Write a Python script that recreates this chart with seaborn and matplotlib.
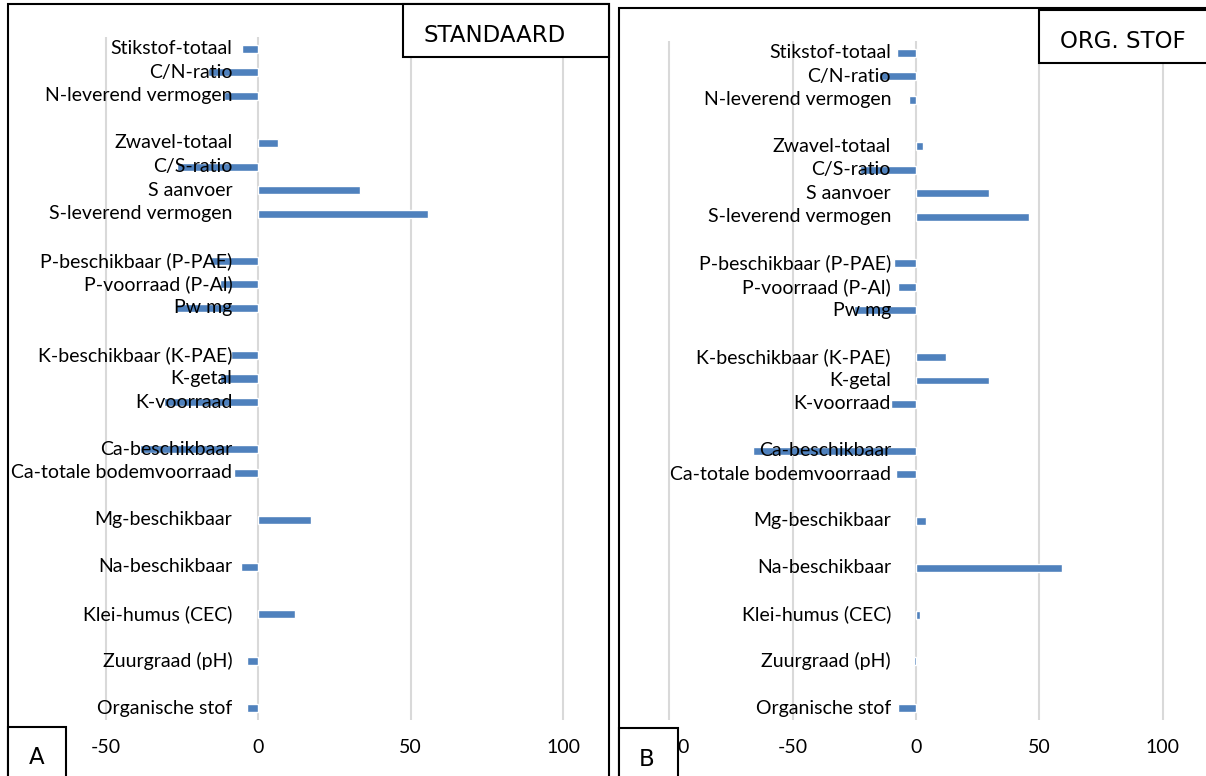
import matplotlib
matplotlib.use("Agg")
import matplotlib.pyplot as plt
import matplotlib.transforms as mtransforms
from matplotlib.patches import Rectangle
import pandas as pd
import seaborn as sns

# Soil characteristics, grouped by nutrient
groups = [
    ["Stikstof-totaal", "C/N-ratio", "N-leverend vermogen"],
    ["Zwavel-totaal", "C/S-ratio", "S aanvoer", "S-leverend vermogen"],
    ["P-beschikbaar (P-PAE)", "P-voorraad (P-Al)", "Pw mg"],
    ["K-beschikbaar (K-PAE)", "K-getal", "K-voorraad"],
    ["Ca-beschikbaar", "Ca-totale bodemvoorraad"],
    ["Mg-beschikbaar"],
    ["Na-beschikbaar"],
    ["Klei-humus (CEC)"],
    ["Zuurgraad (pH)"],
    ["Organische stof"],
]

# Relative difference (%) per characteristic, same order as the groups above
standaard = [-5.2, -16.5, -11.2,
             6.4, -26.6, 33.4, 55.7,
             -15.8, -12.6, -26.9,
             -9.0, -12.6, -31.0,
             -38.8, -8.0,
             17.3, -5.8, 11.9, -3.8, -3.7]
org_stof = [-7.8, -15.0, -2.8,
            2.7, -22.7, 29.4, 45.9,
            -8.8, -7.3, -25.0,
            12.3, 29.4, -10.3,
            -66.2, -8.3,
            4.0, 59.1, 1.5, -0.8, -7.2]

ticks_a = [-50, 0, 50, 100]
ticks_b = [-100, -50, 0, 50, 100]

labels = [name for g in groups for name in g]
# category order with an empty slot between consecutive groups
order = []
for i, g in enumerate(groups):
    if i:
        order.append(f"_leeg{i}")
    order.extend(g)

BLUE = "#4F81BD"
W, H = 1206, 776

sns.set_theme(style="white")
plt.rcParams["font.family"] = ["Lato", "DejaVu Sans"]
plt.rcParams["axes.unicode_minus"] = False

fig = plt.figure(figsize=(W / 100, H / 100), dpi=100)


def frac(x0, y0, x1, y1):
    return [x0 / W, 1 - y1 / H, (x1 - x0) / W, (y1 - y0) / H]


def panel(box, xlim, ticks, values, gap_px):
    ax = fig.add_axes(frac(*box))
    ax.set_facecolor("none")
    df = pd.DataFrame({"kenmerk": labels, "verschil": values})
    sns.barplot(data=df, x="verschil", y="kenmerk", order=order, orient="h",
                color=BLUE, saturation=1, width=0.34, errorbar=None, ax=ax)
    ax.set_xlim(*xlim)
    ax.set_ylim(len(order) - 0.5, -0.5)
    ax.set_xticks(ticks)
    ax.set_yticks([])
    ax.set_xlabel("")
    ax.set_ylabel("")
    ax.xaxis.grid(True, color="#d9d9d9", lw=1.5)
    ax.set_axisbelow(True)
    for s in ax.spines.values():
        s.set_visible(False)
    ax.tick_params(axis="x", length=0, pad=14, labelsize=14, labelcolor="black")
    shift = mtransforms.ScaledTranslation(-gap_px / 100, 0, fig.dpi_scale_trans)
    for name in labels:
        ax.text(0, order.index(name), name, transform=ax.transData + shift,
                ha="right", va="center", fontsize=14, color="black", zorder=5)
    return ax


panel((99.9, 37, 569.1, 720), (-52, 102), ticks_a, standaard, 26)
panel((664.1, 41, 1167.9, 720), (-102, 102), ticks_b, org_stof, 25)


def box(x0, y0, x1, y1, fill="none"):
    r = Rectangle((x0 / W, 1 - y1 / H), (x1 - x0) / W, (y1 - y0) / H,
                  transform=fig.transFigure, facecolor=fill, edgecolor="black",
                  lw=1.5, zorder=10, clip_on=False)
    fig.add_artist(r)


def label(x, y, s, ha="center"):
    fig.text(x / W, 1 - y / H, s, ha=ha, va="center", fontsize=16.5,
             family="DejaVu Sans", color="black", zorder=11)


# panel frames
box(8, 4, 609, 800)
box(619, 8, 1230, 800)
# title boxes
box(403, 4, 609, 57, fill="white")
label(495, 35, "STANDAARD")
box(1039, 10, 1230, 63, fill="white")
label(1060, 42, "ORG. STOF", ha="left")
# panel letters
box(8, 727, 66, 800, fill="white")
label(37, 757, "A")
box(619, 728, 678, 800, fill="white")
label(647, 759, "B")

fig.savefig("out.png", dpi=100)
